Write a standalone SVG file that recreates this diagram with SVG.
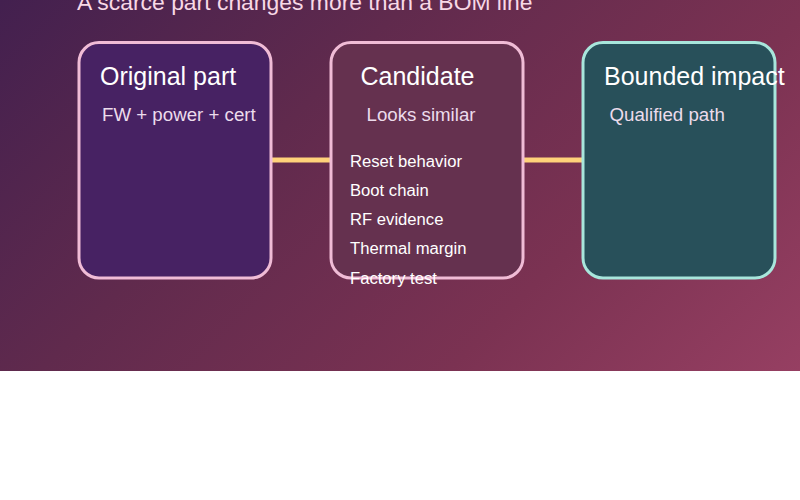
<svg xmlns="http://www.w3.org/2000/svg" width="800" height="500" viewBox="0 0 800 500">
<style>
text{font-family:"Liberation Sans",Arial,sans-serif}
.title{font-size:25px;fill:#fff}
.sub{font-size:18.7px;fill:#ecdcec}
.item{font-size:16.65px;fill:#fff}
.head{font-size:22.9px;fill:#f8d8e6}
.box{stroke-width:3}
.conn{stroke:#ffd27a;stroke-width:5;fill:none}
</style>
<defs>
<linearGradient id="bg" gradientUnits="userSpaceOnUse" x1="107" y1="-107" x2="692" y2="478">
<stop offset="0" stop-color="#43204f"/><stop offset="0.35" stop-color="#602a4d"/><stop offset="0.7" stop-color="#7b3252"/><stop offset="1" stop-color="#963f62"/>
</linearGradient>
</defs>
<rect id="background" x="0" y="0" width="800" height="371" fill="url(#bg)"/>
<text id="heading" class="head" x="77" y="10">A scarce part changes more than a BOM line</text>
<g id="connectors">
<line class="conn" x1="271" y1="160" x2="331" y2="160"/>
<line class="conn" x1="523" y1="160" x2="583" y2="160"/>
</g>
<g id="node-original">
<rect class="box" x="79" y="42.500" width="192" height="235.500" rx="20" fill="#472263" stroke="#f0bcd6"/>
<text class="title" x="100" y="84.500">Original part</text>
<text class="sub" x="102" y="120.500">FW + power + cert</text>
</g>
<g id="node-candidate">
<rect class="box" x="331" y="42.500" width="192" height="235.500" rx="20" fill="#65314f" stroke="#f0bcd6"/>
<text class="title" x="360.500" y="84.500">Candidate</text>
<text class="sub" x="366.500" y="120.500">Looks similar</text>
<text class="item" x="350" y="167">Reset behavior</text>
<text class="item" x="350" y="196">Boot chain</text>
<text class="item" x="350" y="225">RF evidence</text>
<text class="item" x="350" y="254">Thermal margin</text>
<text class="item" x="350" y="284">Factory test</text>
</g>
<g id="node-bounded">
<rect class="box" x="583" y="42.500" width="192" height="235.500" rx="20" fill="#28505a" stroke="#a8e6dc"/>
<text class="title" x="604" y="84.500">Bounded impact</text>
<text class="sub" x="609.500" y="120.500">Qualified path</text>
</g>
</svg>
